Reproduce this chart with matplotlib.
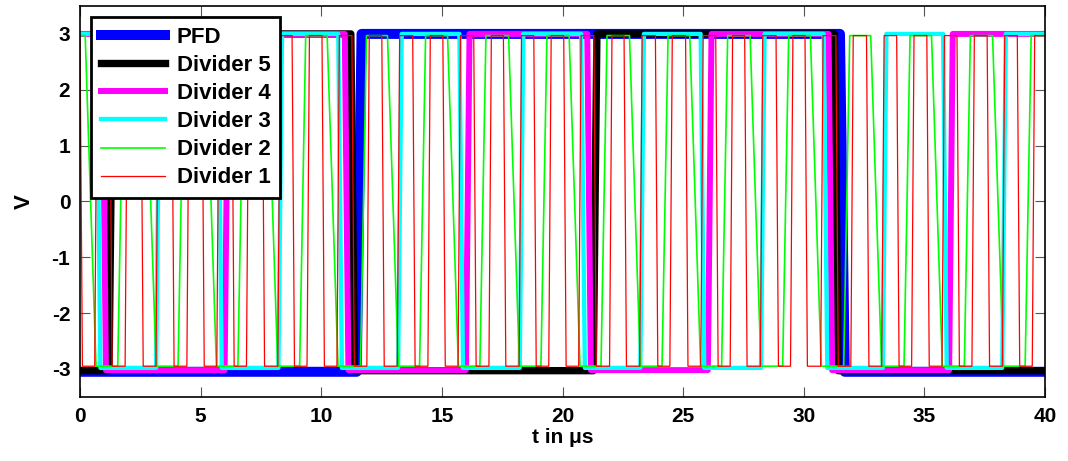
import numpy as np
import matplotlib
matplotlib.use('Agg')
import matplotlib.pyplot as plt

# tiempos de conmutacion (cruce por cero), en us
pfd_edges = [11.57, 31.6]
div5_edges = [1.28, 11.3, 21.35, 31.35]
div4_edges = [1.0, 6.07, 11.05, 16.07, 21.1, 26.1, 31.1, 36.1]
div3_edges = [0.77, 3.23, 5.8, 8.3, 10.78, 13.26, 15.8, 18.3, 20.85, 23.3,
              25.8, 28.3, 30.9, 33.35, 35.85, 38.3]
div2_edges = [0.44, 1.69, 2.93, 4.19, 5.43, 6.67, 7.97, 9.23, 10.47, 11.75,
              12.97, 14.2, 15.46, 16.7, 17.99, 19.23, 20.5, 21.72, 23.0, 24.25,
              25.5, 26.72, 28.0, 29.25, 30.5, 31.78, 33.0, 34.28, 35.52, 36.78,
              38.05, 39.3]
div1_edges = [0.05, 0.66, 1.28, 1.92, 2.57, 3.2, 3.85, 4.48, 5.1, 5.72,
              6.34, 6.95, 7.6, 8.25, 8.84, 9.46, 10.08, 10.7, 11.32, 11.94,
              12.56, 13.2, 13.84, 14.47, 15.09, 15.72, 16.37, 17.0, 17.6, 18.25,
              18.86, 19.48, 20.1, 20.72, 21.35, 22.0, 22.6, 23.25, 23.9, 24.5,
              25.15, 25.78, 26.4, 27.0, 27.6, 28.25, 28.9, 29.5, 30.1, 30.75,
              31.38, 32.0, 32.65, 33.28, 33.9, 34.52, 35.15, 35.78, 36.4, 37.02,
              37.65, 38.28, 38.9, 39.52]

labels = ['PFD', 'Divider 5', 'Divider 4', 'Divider 3', 'Divider 2', 'Divider 1']
start_high = [False, False, True, True, True, True]
v_high = [3.0, 3.0, 3.0, 3.0, 2.97, 2.97]
v_low = [-3.05, -3.03, -3.02, -2.98, -2.95, -2.95]


def senal(edges, alto, hi, lo, tr, tf):
    # onda cuadrada con flancos lineales
    ts = [-1.0]
    vs = [hi if alto else lo]
    for e in edges:
        if alto:
            ts += [e - tf / 2, e + tf / 2]
            vs += [hi, lo]
        else:
            ts += [e - tr / 2, e + tr / 2]
            vs += [lo, hi]
        alto = not alto
    ts.append(41.0)
    vs.append(hi if alto else lo)
    return ts, vs


plt.rcParams['font.family'] = ['Liberation Sans', 'DejaVu Sans']
plt.rcParams['font.weight'] = 'bold'
plt.rcParams['axes.unicode_minus'] = False

fig = plt.figure(figsize=(10.68, 4.61), dpi=100)
ax = fig.add_axes([0.0749, 0.139, 0.9036, 0.848])

edges = [pfd_edges, div5_edges, div4_edges, div3_edges, div2_edges, div1_edges]
colores = ['#0000ff', '#000000', '#ff00ff', '#00ffff', '#00ff00', '#ff0000']
anchos = [7.2, 5.3, 4.3, 3.1, 1.2, 0.9]
rampas = [(0.2, 0.2), (0.15, 0.15), (0.15, 0.15), (0.15, 0.15), (0.25, 0.45), (0.1, 0.1)]

for i in range(6):
    ts, vs = senal(edges[i], start_high[i], v_high[i], v_low[i], rampas[i][0], rampas[i][1])
    ax.plot(ts, vs, color=colores[i], lw=anchos[i], label=labels[i])

ax.set_xlim(0, 40)
ax.set_ylim(-3.5, 3.5)
ax.set_xticks(range(0, 41, 5))
ax.set_yticks(range(-3, 4))
ax.tick_params(direction='in', length=7, width=0.8, labelsize=15, pad=7,
               top=True, right=True, color='#555555')
for s in ax.spines.values():
    s.set_linewidth(1.2)
ax.set_xlabel('t in μs', fontsize=15, fontweight='bold', labelpad=2)
ax.set_ylabel('V', fontsize=16, fontweight='bold', labelpad=12)

leg = ax.legend(loc='upper left', bbox_to_anchor=(0.0114, 0.972), borderaxespad=0,
                fontsize=16, handlelength=2.9, handletextpad=0.5, labelspacing=0.32,
                borderpad=0.45, fancybox=False, framealpha=1, edgecolor='black')
leg.get_frame().set_linewidth(2)

fig.savefig('out.png', dpi=100)
